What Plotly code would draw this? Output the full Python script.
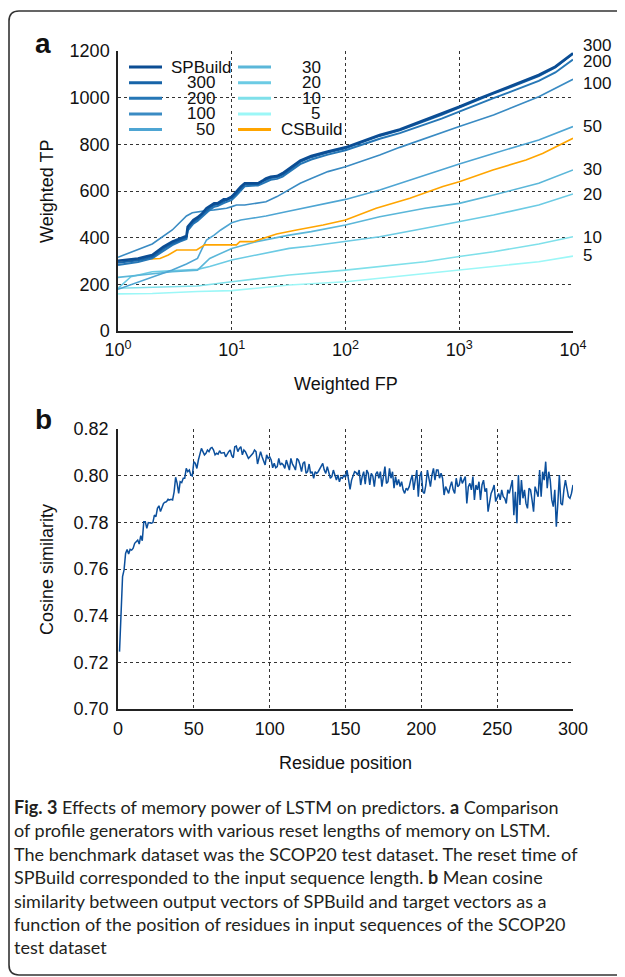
import plotly.graph_objects as go

# page has an 8px body margin, so the figure is drawn 8px in from the window edge
OFF = 8
W, H = 625 - OFF, 977 - OFF

# ---------------- Panel a data (Weighted FP vs Weighted TP) ----------------
fp_sp = [1, 1.5, 2, 2.5, 3, 3.5, 4, 4.1, 4.6, 5, 5.5, 6, 6.5, 7, 7.5, 8.5, 9, 10, 11, 12,
         13, 15, 17, 19, 20, 22, 25, 28, 30, 35, 40, 50, 60, 70, 100, 150, 200, 300, 500, 700,
         1000, 1500, 2000, 3000, 5000, 7000, 10000]
tp_spbuild = [301, 311, 326, 361, 383, 397, 407, 447, 476, 487, 504, 526, 536, 547, 547, 564, 564, 576, 597, 619,
              633, 633, 633, 647, 654, 661, 664, 676, 686, 711, 730, 750, 761, 769, 787, 819, 840, 864, 904, 930,
              961, 997, 1021, 1054, 1097, 1133, 1190]
tp_300 = [292, 303, 318, 352, 375, 390, 400, 440, 468, 480, 498, 518, 530, 540, 542, 556, 560, 570, 590, 610,
          628, 630, 630, 642, 648, 656, 660, 670, 680, 705, 725, 745, 757, 765, 783, 815, 836, 860, 900, 926,
          958, 994, 1018, 1050, 1093, 1130, 1188]
tp_200 = [283, 296, 312, 345, 368, 383, 394, 430, 460, 472, 490, 510, 522, 532, 535, 548, 552, 562, 582, 600,
          620, 623, 624, 634, 640, 648, 652, 662, 672, 695, 715, 735, 748, 756, 775, 805, 824, 848, 885, 910,
          940, 975, 998, 1030, 1072, 1108, 1163]

fp_100 = [1, 2, 3, 4, 4.5, 5, 6, 7, 8, 9, 10, 11, 13, 15, 17, 19, 20, 25, 30, 40, 50, 70, 100, 200, 300,
          500, 1000, 2000, 3000, 5000, 10000]
tp_100 = [316, 373, 433, 493, 507, 511, 516, 519, 521, 526, 533, 540, 540, 544, 547, 551, 554, 576, 597, 633,
          654, 683, 704, 754, 787, 826, 876, 926, 961, 1004, 1079]

fp_50 = [1, 2, 3, 4, 5, 5.5, 6, 7, 8, 10, 12, 15, 20, 30, 50, 100, 200, 500, 1000, 2000, 5000, 10000]
tp_50 = [179, 230, 261, 287, 311, 354, 390, 411, 433, 464, 476, 483, 493, 511, 533, 564, 604, 669, 716, 761,
         819, 876]

fp_30 = [1, 2, 3, 5, 6.4, 10, 16.5, 32, 50, 100, 200, 500, 1000, 2000, 5000, 10000]
tp_30 = [230, 247, 254, 261, 311, 354, 383, 411, 426, 454, 490, 526, 547, 583, 633, 690]

fp_20 = [1, 1.3, 2, 5, 6.4, 10, 16.5, 32, 50, 100, 200, 500, 1000, 2000, 5000, 10000]
tp_20 = [183, 233, 254, 264, 276, 304, 326, 354, 364, 383, 404, 440, 469, 497, 540, 587]

fp_10 = [1, 2, 5, 10, 32, 100, 200, 500, 1000, 2000, 5000, 10000]
tp_10 = [183, 187, 193, 211, 240, 261, 276, 297, 319, 340, 373, 404]

fp_5 = [1, 2, 5, 10, 32, 100, 200, 500, 1000, 2000, 5000, 10000]
tp_5 = [159, 161, 169, 173, 197, 211, 226, 247, 261, 279, 297, 321]

fp_cs = [1, 2, 2.34, 2.77, 3.28, 4.91, 5.8, 11.0, 11.8, 15.5, 18.9, 24.8, 37.1, 63.6, 100, 186, 368, 718,
         1000, 1975, 3860, 5400, 10000]
tp_csbuild = [301, 307, 311, 326, 347, 347, 369, 369, 383, 383, 397, 416, 433, 454, 476, 526, 569, 619,
              640, 690, 733, 761, 826]

series_names = ["5", "10", "20", "30", "50", "100", "CSBuild", "200", "300", "SPBuild"]
series_fp = [fp_5, fp_10, fp_20, fp_30, fp_50, fp_100, fp_cs, fp_sp, fp_sp, fp_sp]
series_tp = [tp_5, tp_10, tp_20, tp_30, tp_50, tp_100, tp_csbuild, tp_200, tp_300, tp_spbuild]

legend_col1 = ["SPBuild", "300", "200", "100", "50"]
legend_col2 = ["30", "20", "10", "5", "CSBuild"]

right_labels = ["300", "200", "100", "50", "30", "20", "10", "5"]

x_a_tickvals = [1, 10, 100, 1000, 10000]
x_a_ticktext = ["10<sup>0</sup>", "10<sup>1</sup>", "10<sup>2</sup>", "10<sup>3</sup>", "10<sup>4</sup>"]
y_a_tickvals = [0, 200, 400, 600, 800, 1000, 1200]

# ---------------- Panel b data (cosine similarity by residue) ----------------
cos_sim = [
    0.7246, 0.7439, 0.7567, 0.7596, 0.7667, 0.7684, 0.7664, 0.7684, 0.7681, 0.7689,
    0.7710, 0.7717, 0.7724, 0.7707, 0.7743, 0.7721, 0.7803, 0.7803, 0.7774, 0.7799,
    0.7796, 0.7796, 0.7799, 0.7831, 0.7824, 0.7860, 0.7871, 0.7846, 0.7864, 0.7881,
    0.7886, 0.7889, 0.7899, 0.7896, 0.7899, 0.7896, 0.7931, 0.7993, 0.7967, 0.7924,
    0.7974, 0.7970, 0.7989, 0.7989, 0.8031, 0.8017, 0.8024, 0.8003, 0.7999, 0.8060,
    0.8053, 0.8031, 0.8067, 0.8089, 0.8117, 0.8103, 0.8089, 0.8096, 0.8110, 0.8103,
    0.8117, 0.8121, 0.8110, 0.8089, 0.8096, 0.8092, 0.8107, 0.8096, 0.8099, 0.8099,
    0.8081, 0.8093, 0.8103, 0.8110, 0.8086, 0.8077, 0.8124, 0.8127, 0.8103, 0.8117,
    0.8124, 0.8089, 0.8110, 0.8103, 0.8089, 0.8074, 0.8081, 0.8089, 0.8096, 0.8110,
    0.8103, 0.8050, 0.8081, 0.8103, 0.8081, 0.8067, 0.8046, 0.8089, 0.8074, 0.8081,
    0.8067, 0.8034, 0.8053, 0.8034, 0.8039, 0.8074, 0.8046, 0.8053, 0.8046, 0.8031,
    0.8067, 0.8046, 0.8024, 0.8074, 0.8050, 0.8039, 0.8024, 0.8074, 0.8067, 0.8046,
    0.8017, 0.8053, 0.8060, 0.8010, 0.8017, 0.8050, 0.8010, 0.8017, 0.7989, 0.8017,
    0.8010, 0.8017, 0.8031, 0.8046, 0.8053, 0.8024, 0.8010, 0.8039, 0.8010, 0.7989,
    0.7996, 0.8024, 0.8003, 0.7981, 0.8003, 0.7974, 0.7993, 0.7989, 0.8003, 0.7993,
    0.8024, 0.7989, 0.7941, 0.7981, 0.7996, 0.8017, 0.8013, 0.8003, 0.8024, 0.7960,
    0.7996, 0.8017, 0.7964, 0.8024, 0.8010, 0.7960, 0.8010, 0.7999, 0.7953, 0.8007,
    0.8017, 0.7989, 0.8017, 0.7953, 0.7996, 0.8039, 0.7967, 0.7974, 0.8031, 0.7989,
    0.8017, 0.7946, 0.7996, 0.7960, 0.7984, 0.7953, 0.7974, 0.7939, 0.7924, 0.7946,
    0.7939, 0.7953, 0.7981, 0.8003, 0.7939, 0.7989, 0.8024, 0.7910, 0.7996, 0.8017,
    0.7931, 0.7924, 0.7960, 0.8024, 0.7989, 0.7953, 0.8003, 0.8031, 0.7981, 0.8024,
    0.8024, 0.7989, 0.8010, 0.7989, 0.7917, 0.7953, 0.7939, 0.7924, 0.7953, 0.7974,
    0.7939, 0.7924, 0.7989, 0.7953, 0.7960, 0.7996, 0.7967, 0.7981, 0.7996, 0.7881,
    0.7953, 0.7967, 0.7939, 0.7996, 0.7896, 0.7960, 0.7939, 0.7974, 0.7896, 0.7960,
    0.7981, 0.7931, 0.7946, 0.7846, 0.7896, 0.7924, 0.7939, 0.7960, 0.7889, 0.7910,
    0.7924, 0.7896, 0.7939, 0.7910, 0.7903, 0.7881, 0.7939, 0.7924, 0.7953, 0.7981,
    0.7831, 0.7931, 0.7796, 0.8003, 0.7874, 0.7981, 0.7903, 0.7939, 0.7881, 0.7860,
    0.7946, 0.7939, 0.7896, 0.7846, 0.7953, 0.7931, 0.7910, 0.8024, 0.7910, 0.8017,
    0.7981, 0.8060, 0.7946, 0.8017, 0.7981, 0.7896, 0.7867, 0.7939, 0.7781, 0.7881,
    0.8003, 0.7881, 0.7874, 0.7939, 0.7981, 0.7946, 0.7910, 0.7903, 0.7924, 0.7960,
]
residue_pos = list(range(1, len(cos_sim) + 1))
x_b_tickvals = [0, 50, 100, 150, 200, 250, 300]
y_b_tickvals = [0.70, 0.72, 0.74, 0.76, 0.78, 0.80, 0.82]

caption_html = (
    "<b>Fig. 3</b> Effects of memory power of LSTM on predictors. <b>a</b> Comparison<br>"
    "of profile generators with various reset lengths of memory on LSTM.<br>"
    "The benchmark dataset was the SCOP20 test dataset. The reset time of<br>"
    "SPBuild corresponded to the input sequence length. <b>b</b> Mean cosine<br>"
    "similarity between output vectors of SPBuild and target vectors as a<br>"
    "function of the position of residues in input sequences of the SCOP20<br>"
    "test dataset"
)

# ---------------- styling ----------------
colors = {
    "SPBuild": "#0b4d94", "300": "#1764a8", "200": "#2677b6", "100": "#3a8bc3",
    "50": "#4ea5d3", "30": "#5bb7d9", "20": "#6ccbe4", "10": "#7fe0ea",
    "5": "#9cf7f7", "CSBuild": "#ffa500",
}
widths = {"SPBuild": 2.6, "300": 2.0, "200": 2.0}
FONT = "Liberation Sans, Arial, Helvetica, sans-serif"
TXT = "#111111"


def pxx(x):
    return (x - OFF) / W


def pyy(y):
    return 1 - (y - OFF) / H


fig = go.Figure()

for name, xs, ys in zip(series_names, series_fp, series_tp):
    fig.add_trace(go.Scatter(
        x=xs, y=ys, mode="lines", name=name, showlegend=False,
        line=dict(color=colors[name], width=widths.get(name, 1.6)),
        xaxis="x", yaxis="y",
    ))

fig.add_trace(go.Scatter(
    x=residue_pos, y=cos_sim, mode="lines", showlegend=False,
    line=dict(color="#0b4f9c", width=1.5), xaxis="x2", yaxis="y2",
))

grid = dict(showgrid=True, gridcolor="#333333", gridwidth=1, griddash="dot",
            zeroline=False, showline=True, linecolor="#222222", linewidth=1.5,
            ticks="", tickfont=dict(family=FONT, size=18, color=TXT))

fig.update_layout(
    width=W, height=H,
    margin=dict(l=0, r=0, t=0, b=0, autoexpand=False),
    paper_bgcolor="white", plot_bgcolor="white",
    showlegend=False,
    xaxis=dict(type="log", range=[0, 4], domain=[pxx(118), pxx(573)], anchor="y",
               tickvals=x_a_tickvals, ticktext=x_a_ticktext, ticklabelstandoff=2, **grid),
    yaxis=dict(range=[0, 1200], domain=[pyy(331), pyy(51)], anchor="x",
               tickvals=y_a_tickvals, ticklabelstandoff=3, **grid),
    xaxis2=dict(range=[0, 300], domain=[pxx(118), pxx(573)], anchor="y2",
                tickvals=x_b_tickvals, ticklabelstandoff=3, **grid),
    yaxis2=dict(range=[0.70, 0.82], domain=[pyy(709), pyy(429)], anchor="x2",
                tickvals=y_b_tickvals, tickformat=".2f", ticklabelstandoff=4, **grid),
)

ann = []
shapes = []


def text_at(text, x, y, size=18, angle=0, xanchor="center", yanchor="middle", **kw):
    ann.append(dict(text=text, x=pxx(x), y=pyy(y), xref="paper", yref="paper",
                    xanchor=xanchor, yanchor=yanchor, showarrow=False, textangle=angle,
                    font=dict(family=FONT, size=size, color=TXT), **kw))


# axis titles
text_at("Weighted FP", 345.5, 384)
text_at("Weighted TP", 47, 191, angle=-90)
text_at("Residue position", 345.5, 763)
text_at("Cosine similarity", 47, 569, angle=-90)

# panel letters
text_at("<b>a</b>", 43, 43, size=28)
text_at("<b>b</b>", 43, 419, size=28)

# right-hand series labels (placed beside the line ends)
right_label_py = [46, 62, 83, 126, 170, 194, 237, 256]
for lab, yp in zip(right_labels, right_label_py):
    text_at(lab, 581, yp, size=17, xanchor="left")

# legend (two columns)
row_y = [67, 82.7, 98.3, 114, 129.6]
for names, lx0, lx1, tx in [(legend_col1, 129, 162, 201), (legend_col2, 238, 271, 311)]:
    for i, nm in enumerate(names):
        shapes.append(dict(type="line", xref="paper", yref="paper",
                           x0=pxx(lx0), x1=pxx(lx1), y0=pyy(row_y[i]), y1=pyy(row_y[i]),
                           line=dict(color=colors[nm], width=3)))
        shift = 4 if nm in ("50", "5") else 0
        text_at(nm, tx + shift, row_y[i], size=17)

# caption
ann.append(dict(text=caption_html, x=pxx(12), y=pyy(794), xref="paper", yref="paper",
                xanchor="left", yanchor="top", align="left", showarrow=False,
                font=dict(family="Lato, Open Sans, sans-serif", size=18, color="#231f20")))

# rounded outer frame (right edge runs off the page)
x0, rx, ry = pxx(9), 10 / W, 10 / H
yt, yb = pyy(11), pyy(975)
frame_path = (f"M 1.05,{yb} L {x0 + rx},{yb} Q {x0},{yb} {x0},{yb + ry} "
              f"L {x0},{yt - ry} Q {x0},{yt} {x0 + rx},{yt} L 1.05,{yt}")
shapes.append(dict(type="path", xref="paper", yref="paper", path=frame_path,
                   line=dict(color="#333333", width=1.6)))

fig.update_layout(annotations=ann, shapes=shapes)
fig.write_html("out.html")
